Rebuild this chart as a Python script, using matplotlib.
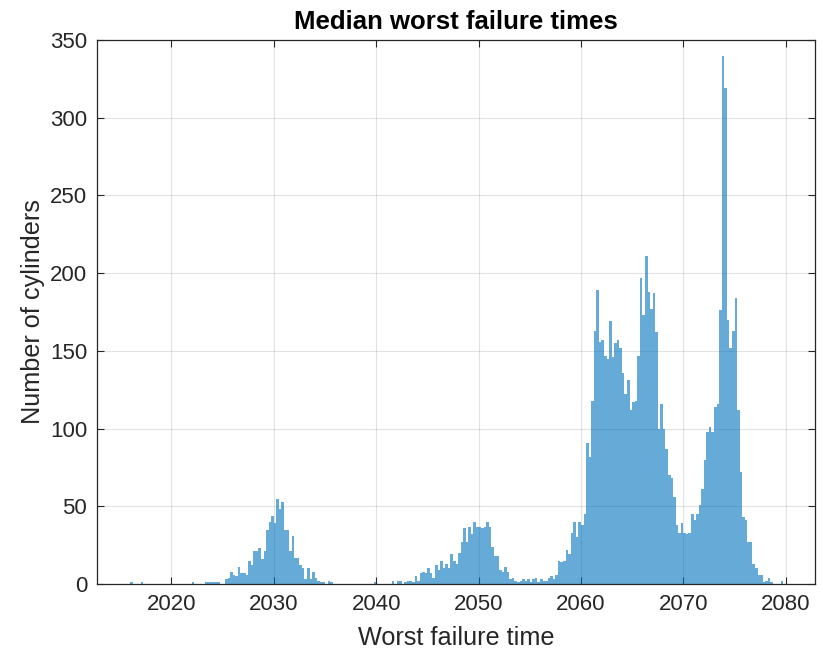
import numpy as np
import matplotlib
matplotlib.use("Agg")
import matplotlib.pyplot as plt

# Histogram of median worst failure times, quarterly bins
BIN_WIDTH = 0.25

# isolated single-count bins (left edges)
isolated_years = [2016.0, 2017.0, 2022.0]
isolated_counts = [1, 1, 1]

# cluster around 2030 (bins start at 2023.25)
cluster1_start = 2023.25
cluster1_counts = [
    1, 1, 1, 1, 1, 1, 0, 0,
    3, 4, 8, 6, 5, 11, 7, 7,
    6, 15, 12, 21, 21, 23, 16, 21,
    35, 40, 44, 39, 55, 48, 53, 35,
    35, 21, 31, 17, 17, 12, 10, 3,
    10, 3, 8, 4, 2, 1, 1, 0,
    2, 1,
]

# cluster around 2050 (bins start at 2039.75)
cluster2_start = 2039.75
cluster2_counts = [
    1, 0, 0, 0, 0, 0, 0, 2,
    0, 2, 2, 0, 1, 2, 2, 1,
    5, 2, 7, 8, 7, 10, 7, 4,
    12, 9, 15, 10, 13, 10, 19, 15,
    13, 20, 27, 36, 27, 37, 32, 40,
    37, 37, 36, 37, 40, 37, 24, 18,
    18, 9, 8, 11, 8, 3, 4, 2,
    1, 2, 3, 2, 3, 1, 3, 4,
    1, 3, 2,
]

# main mass 2056-2080 (bins start at 2056.5)
cluster3_start = 2056.5
cluster3_counts = [
    2, 4, 5, 3, 6, 15, 14, 15,
    22, 19, 33, 40, 30, 40, 38, 45,
    91, 82, 118, 163, 189, 156, 157, 147,
    145, 169, 146, 155, 157, 152, 136, 122,
    131, 112, 117, 118, 147, 197, 173, 211,
    188, 177, 187, 162, 100, 116, 100, 87,
    70, 68, 56, 38, 33, 39, 33, 32,
    33, 45, 41, 45, 51, 61, 80, 98,
    101, 98, 114, 116, 176, 340, 319, 170,
    152, 163, 184, 112, 72, 43, 41, 27,
    27, 13, 10, 6, 6, 1, 2, 4,
    1, 0, 0, 0, 2,
]

x_ticks = [2020, 2030, 2040, 2050, 2060, 2070, 2080]
y_ticks = [0, 50, 100, 150, 200, 250, 300, 350]

plt.rcParams["font.family"] = ["Liberation Sans", "DejaVu Sans"]
TEXT = "#262626"
FACE = (0.0, 0.447, 0.741)

fig = plt.figure(figsize=(8.23, 6.5), dpi=100)
ax = fig.add_axes([0.1179, 0.1015, 0.8724, 0.837])

segments = [
    (np.array(isolated_years), isolated_counts),
    (cluster1_start + BIN_WIDTH * np.arange(len(cluster1_counts)), cluster1_counts),
    (cluster2_start + BIN_WIDTH * np.arange(len(cluster2_counts)), cluster2_counts),
    (cluster3_start + BIN_WIDTH * np.arange(len(cluster3_counts)), cluster3_counts),
]
for lefts, counts in segments:
    ax.bar(lefts, counts, width=BIN_WIDTH, align="edge", color=FACE,
           alpha=0.6, linewidth=0, zorder=2)

ax.set_xlim(2012.74, 2082.86)
ax.set_ylim(0, 350)
ax.set_xticks(x_ticks)
ax.set_yticks(y_ticks)

ax.grid(True, color=TEXT, alpha=0.13, linewidth=0.8, zorder=0)
ax.set_axisbelow(True)

ax.tick_params(direction="in", length=5, width=0.8, colors=TEXT,
               labelsize=16, top=True, right=True, pad=7)
for side in ax.spines.values():
    side.set_color(TEXT)
    side.set_linewidth(0.9)

ax.set_xlabel("Worst failure time", fontsize=18.2, color=TEXT, labelpad=8)
ax.set_ylabel("Number of cylinders", fontsize=18.2, color=TEXT, labelpad=4)
ax.set_title("Median worst failure times", fontsize=18.5, fontweight="bold",
             color="black", pad=8)

fig.savefig("out.png", dpi=100)
